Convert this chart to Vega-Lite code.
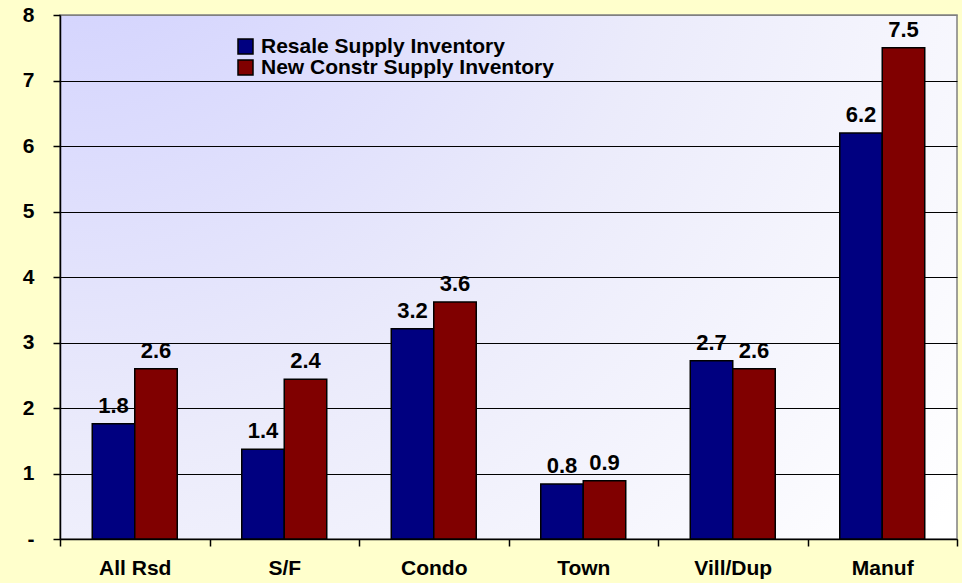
{
  "$schema": "https://vega.github.io/schema/vega-lite/v6.json",
  "width": 897,
  "height": 524,
  "autosize": "none",
  "padding": {"left": 60, "top": 15, "right": 5, "bottom": 44},
  "background": "#FFFFCC",
  "config": {
    "font": "Liberation Sans",
    "view": {
      "stroke": "#808080",
      "strokeWidth": 1.5,
      "fill": {
        "gradient": "radial",
        "x1": 0, "y1": 0, "r1": 0,
        "x2": 0, "y2": 0, "r2": 1.25,
        "stops": [
          {"offset": 0, "color": "#CCCCFF"},
          {"offset": 0.55, "color": "#EBEBFB"},
          {"offset": 1, "color": "#FFFFFF"}
        ]
      }
    }
  },
  "data": {
    "values": [
      {"category": "All Rsd", "series": "Resale Supply Inventory", "value": 1.76},
      {"category": "All Rsd", "series": "New Constr Supply Inventory", "value": 2.6},
      {"category": "S/F", "series": "Resale Supply Inventory", "value": 1.37},
      {"category": "S/F", "series": "New Constr Supply Inventory", "value": 2.44},
      {"category": "Condo", "series": "Resale Supply Inventory", "value": 3.21},
      {"category": "Condo", "series": "New Constr Supply Inventory", "value": 3.62},
      {"category": "Town", "series": "Resale Supply Inventory", "value": 0.84},
      {"category": "Town", "series": "New Constr Supply Inventory", "value": 0.89},
      {"category": "Vill/Dup", "series": "Resale Supply Inventory", "value": 2.72},
      {"category": "Vill/Dup", "series": "New Constr Supply Inventory", "value": 2.6},
      {"category": "Manuf", "series": "Resale Supply Inventory", "value": 6.2},
      {"category": "Manuf", "series": "New Constr Supply Inventory", "value": 7.5}
    ]
  },
  "encoding": {
    "x": {
      "field": "category",
      "type": "nominal",
      "sort": null,
      "scale": {"paddingInner": 0, "paddingOuter": 0},
      "axis": {
        "title": null,
        "labelAngle": 0,
        "labelFont": "Liberation Sans",
        "labelFontWeight": "bold",
        "labelFontSize": 21,
        "labelColor": "#000000",
        "labelPadding": 11,
        "domainColor": "#000000",
        "domainWidth": 1.5,
        "tickColor": "#000000",
        "tickWidth": 1.5,
        "tickSize": 7,
        "tickBand": "extent"
      }
    },
    "xOffset": {
      "field": "series",
      "type": "nominal",
      "sort": ["Resale Supply Inventory", "New Constr Supply Inventory"],
      "scale": {"paddingInner": 0, "paddingOuter": 0.759}
    },
    "y": {
      "field": "value",
      "type": "quantitative",
      "scale": {"domain": [0, 8], "nice": false},
      "axis": {
        "title": null,
        "values": [0, 1, 2, 3, 4, 5, 6, 7, 8],
        "labelExpr": "datum.value == 0 ? '-' : datum.label",
        "labelFont": "Liberation Sans",
        "labelFontWeight": "bold",
        "labelFontSize": 21,
        "labelColor": "#000000",
        "labelPadding": 19,
        "domainColor": "#000000",
        "domainWidth": 1.5,
        "tickColor": "#000000",
        "tickWidth": 1.5,
        "tickSize": 7,
        "gridColor": {"condition": {"test": "datum.value == 8", "value": "#808080"}, "value": "#000000"},
        "gridWidth": 1,
        "gridOpacity": 1
      }
    }
  },
  "layer": [
    {
      "mark": {"type": "bar", "stroke": "#000000", "strokeWidth": 1.5},
      "encoding": {
        "color": {
          "field": "series",
          "type": "nominal",
          "sort": ["Resale Supply Inventory", "New Constr Supply Inventory"],
          "scale": {"range": ["#000080", "#800000"]},
          "legend": {
            "title": null,
            "orient": "none",
            "legendX": 175,
            "legendY": 21,
            "symbolType": "square",
            "symbolSize": 225,
            "symbolStrokeColor": "#000000",
            "symbolStrokeWidth": 1.5,
            "symbolOpacity": 1,
            "labelFont": "Liberation Sans",
            "labelFontWeight": "bold",
            "labelFontSize": 21,
            "labelColor": "#000000",
            "labelOffset": 5,
            "rowPadding": -2,
            "labelLimit": 500
          }
        }
      }
    },
    {
      "mark": {
        "type": "text",
        "font": "Liberation Sans",
        "fontWeight": "bold",
        "fontSize": 22,
        "baseline": "alphabetic",
        "dy": -11,
        "color": "#000000"
      },
      "encoding": {
        "text": {"field": "value", "type": "quantitative", "format": ".1f"}
      }
    }
  ]
}
